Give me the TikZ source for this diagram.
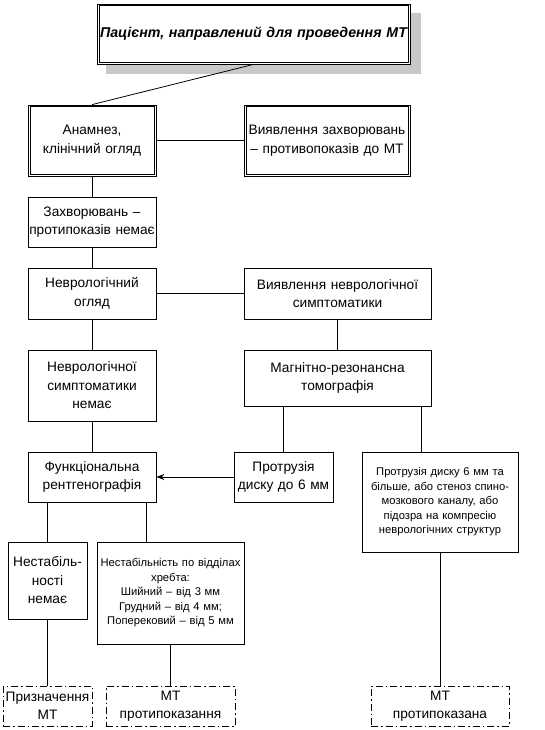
\documentclass[tikz,border=0pt]{standalone}
\usepackage{fontspec}
\setmainfont{Liberation Sans}
\usetikzlibrary{arrows.meta}
\newcommand\mainfs{\fontsize{13.7}{18.5}\selectfont}
\newcommand\smallfs{\fontsize{11.2}{14.5}\selectfont}
\definecolor{shadowgray}{RGB}{200,200,200}
\begin{document}
\begin{tikzpicture}[x=1pt,y=-1pt,
  box/.style={draw, line width=0.8pt, fill=white, inner sep=0pt, align=center, font=\mainfs},
  sbox/.style={box, font=\smallfs},
  ddbox/.style={box, dash pattern=on 7pt off 3pt on 1.5pt off 3pt},
  conn/.style={draw, line width=0.8pt},
  inner/.style={draw, line width=0.6pt},
  sz/.style 2 args={text width=#1pt, minimum height=#2pt}
]
\useasboundingbox (0,0) rectangle (544,730);
% shadow of the title box
\fill[shadowgray] (106,13) rectangle (421,74);
\node[box, sz={313}{60}, font=\fontsize{14.2}{18}\selectfont\bfseries\itshape] (top) at (253.5,34) {\raisebox{2pt}{Пацієнт, направлений для проведення МТ}};
\node[box, sz={128}{71}] (anam) at (92,140.5) {Анамнез,\\клінічний огляд};
\node[box, sz={166}{71}] (vyzah) at (327,140.5) {\mbox{Виявлення захворювань}\\– противопоказів до МТ};
\foreach \n in {top,anam,vyzah}
  \draw[inner] ([shift={(2.2,2.2)}]\n.north west) rectangle ([shift={(-2.2,-2.2)}]\n.south east);
\node[box, sz={128}{50}] (zahv) at (92,222) {Захворювань –\\\mbox{протипоказів немає}};
\node[box, sz={128}{51}] (nevog) at (92,293.5) {Неврологічний\\огляд};
\node[box, sz={187}{51}] (vynev) at (337.5,293.5) {Виявлення неврологічної\\симптоматики};
\node[box, sz={128}{71}] (nevnem) at (92,385.5) {Неврологічної\\симптоматики\\немає};
\node[box, sz={187}{56}] (mrt) at (337.5,378) {Магнітно-резонансна\\томографія};
\node[box, sz={128}{50}] (funk) at (92,477) {Функціональна\\рентгенографія};
\node[box, sz={99}{50}] (protr) at (283.5,477) {Протрузія\\диску до 6 мм};
\node[sbox, sz={156}{100}] (right) at (440,502) {Протрузія диску 6 мм та\\більше, або стеноз спино-\\мозкового каналу, або\\підозра на компресію\\неврологічних структур};
\node[box, sz={79}{77}] (nestnem) at (47.5,580.5) {Нестабіль-\\ності\\немає};
\node[sbox, sz={147}{102}] (nestab) at (170.5,593) {\mbox{Нестабільність по відділах}\\хребта:\\Шийний – від 3 мм\\Грудний – від 4 мм;\\Поперековий – від 5 мм};
\node[ddbox, sz={89}{40}] (pryzn) at (47.5,706) {\mbox{Призначення}\\МТ};
\node[ddbox, sz={129}{40}] (mtpk1) at (170.5,706) {МТ\\протипоказання};
\node[ddbox, sz={138}{40}] (mtpk2) at (440,706) {МТ\\протипоказана};
% connectors
\draw[conn] (top.south) -- (anam.north);
\draw[conn] (anam.east) -- (vyzah.west);
\draw[conn] (anam.south) -- (zahv.north);
\draw[conn] (zahv.south) -- (nevog.north);
\draw[conn] (nevog.east) -- (vynev.west);
\draw[conn] (vynev.south) -- (mrt.north);
\draw[conn] (nevog.south) -- (nevnem.north);
\draw[conn] (nevnem.south) -- (funk.north);
\draw[conn] (protr.north |- mrt.south) -- (protr.north);
\coordinate (rtop) at ([xshift=-19pt]right.north);
\draw[conn] (rtop |- mrt.south) -- (rtop);
\draw[conn, -{Stealth[length=8pt,width=6pt]}] (protr.west) -- (funk.east);
\coordinate (fl) at (nestnem.north);
\draw[conn] (fl |- funk.south) -- (fl);
\coordinate (fr) at ([xshift=-24.5pt]nestab.north);
\draw[conn] (fr |- funk.south) -- (fr);
\draw[conn] (nestnem.south) -- (pryzn.north);
\draw[conn] (nestab.south) -- (mtpk1.north);
\draw[conn] (right.south) -- (mtpk2.north);
\end{tikzpicture}
\end{document}
